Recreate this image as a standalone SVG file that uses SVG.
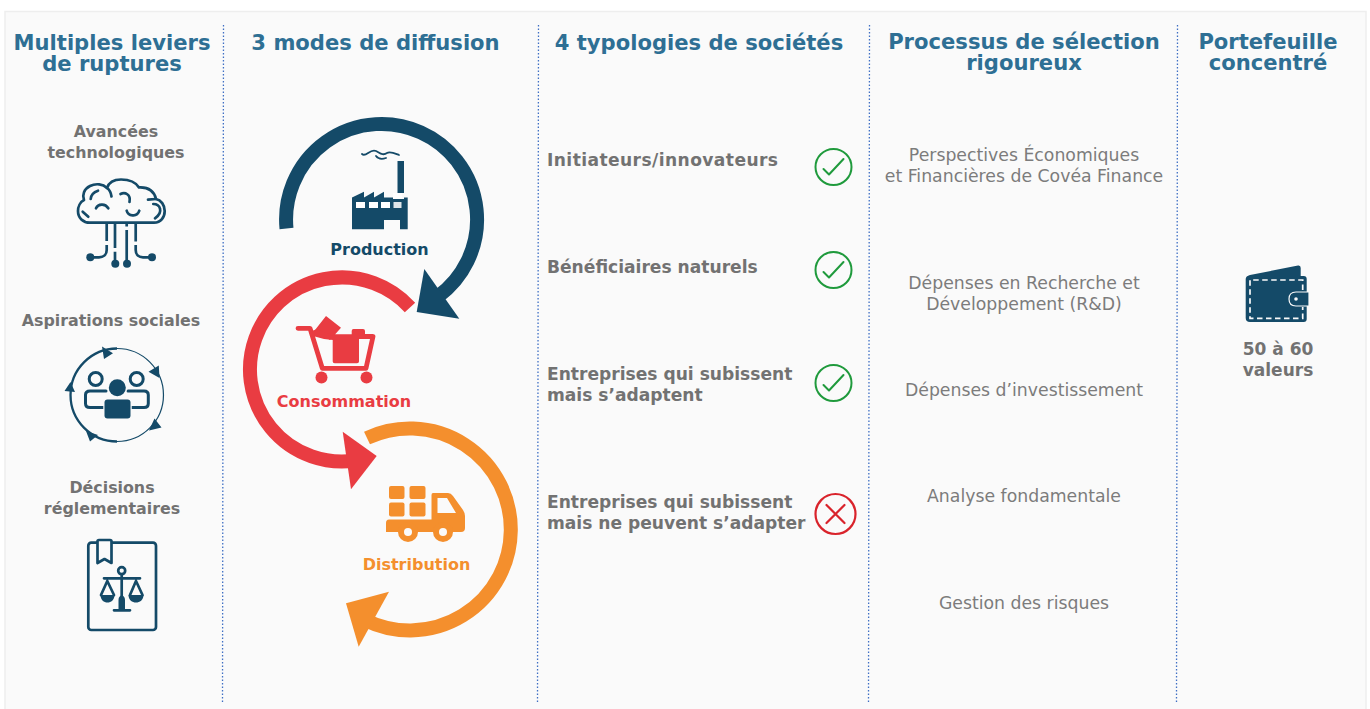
<svg xmlns="http://www.w3.org/2000/svg" width="1370" height="709" viewBox="0 0 1370 709">
<style>
text{font-family:"DejaVu Sans",Verdana,sans-serif;text-anchor:middle}
.h{font-weight:700;font-size:21.1px;fill:#2e6f94}
.b{font-weight:700;font-size:15.85px;fill:#727272}
.l{font-weight:700;font-size:16px}
.bl{font-weight:700;font-size:17.1px;fill:#727272;text-anchor:start}
.r{font-size:17.3px;fill:#7c7c7c}
.sep{fill:none;stroke:#3f6fc4;stroke-width:1.3;stroke-dasharray:1.5 2}
.ic{fill:none;stroke:#144a68;stroke-width:2.7;stroke-linecap:round;stroke-linejoin:round}
.fi{fill:#144a68}
.ok{fill:none;stroke:#1f9a3c;stroke-width:2;stroke-linecap:round;stroke-linejoin:round}
.ko{fill:none;stroke:#d9232b;stroke-width:2.2;stroke-linecap:round}
</style>
<rect width="1370" height="709" fill="#fff"/>
<rect x="5" y="11.500" width="1361" height="710" fill="#fafafa" stroke="#eeeeee" stroke-width="1.500"/>
<g id="separators">
<path class="sep" d="M223.500 25L222.500 702"/><path class="sep" d="M538.500 25L537.500 702"/><path class="sep" d="M869.500 25L868.500 702"/><path class="sep" d="M1177.500 25L1176.500 702"/>
</g>
<g id="col1-title"><text class="h" x="112" y="50">Multiples leviers</text><text class="h" x="112" y="71">de ruptures</text></g>
<g id="col2-title"><text class="h" x="375.500" y="50">3 modes de diffusion</text></g>
<g id="col3-title"><text class="h" x="699" y="50">4 typologies de sociétés</text></g>
<g id="col4-title"><text class="h" x="1024" y="49">Processus de sélection</text><text class="h" x="1024" y="70">rigoureux</text></g>
<g id="col5-title"><text class="h" x="1268" y="49">Portefeuille</text><text class="h" x="1268" y="70">concentré</text></g>

<g id="lever-tech">
<text class="b" x="116" y="137">Avancées</text><text class="b" x="116" y="158">technologiques</text>
<path class="ic" d="M90 222.700H154C161 222.700 164.700 217 164.700 211C164.700 205 161 200 156 199C154 191 148 187 139 187.500C135 181 128 179.500 121 179.500C114 179.500 109 182 107 188C103 184 96 183 90 186C84 189 82 195 84 200C80 202 78 207 78 211C78 218 83 222.700 90 222.700Z"/>
<path class="ic" d="M107 188C110 190 111 193 111.500 196.500M90.700 199C91 195 94 192 98 190.700M96 208.300C98 204 105 203 108.300 208.300M120.500 194C125 192 131 194 129.500 202M126.700 210.700C128 216 137 218 139.300 210.700M148 199.700L156 199M153.300 204C160 204 164 212 155 218.300M82.700 211.700L88.300 216.700"/>
<path class="ic" style="stroke-linecap:butt" d="M106.700 224V241M106.700 245V250C106.700 255 103 257.300 99 257.300H92M115 224V248M115 251.700V262M126.700 224V226.500M126.700 230V262M135.700 224V241.500M135.700 245V250C135.700 255 139 257.300 143 257.300H150"/>
<circle class="fi" cx="90.300" cy="257.300" r="4"/><circle class="fi" cx="115.300" cy="263.700" r="4"/><circle class="fi" cx="127" cy="263.700" r="4"/><circle class="fi" cx="152" cy="257.300" r="4"/>
</g>
<g id="lever-social">
<text class="b" x="111" y="326">Aspirations sociales</text>
<path fill="none" stroke="#144a68" stroke-width="1.200" d="M117 348.500A46.500 46.500 0 0 1 117 441.500"/>
<path fill="none" stroke="#144a68" stroke-width="2.300" d="M117 441.500A46.500 46.500 0 0 1 117 348.500"/>
<path class="fi" d="M102 346.500L113 353.300L104 359ZM158.800 365.500L148.500 371.700L159.500 378ZM154.500 418.500L161.500 427.500L149 430.500ZM86 431L98 435L90 441.500ZM70.500 382L64.500 391L75 392Z"/>
<circle cx="95.700" cy="379" r="6.500" class="ic" style="stroke-width:3"/><circle cx="136.700" cy="379" r="6.500" class="ic" style="stroke-width:3"/>
<path class="ic" style="stroke-width:3" d="M106 391H90Q85.500 391 85.500 395V403.500Q85.500 407.500 90 407.500H106M128 391H144Q148.300 391 148.300 395V403.500Q148.300 407.500 144 407.500H128"/>
<g fill="#144a68" stroke="#fafafa" stroke-width="2.500" paint-order="stroke">
<rect x="104.500" y="399.500" width="26" height="19" rx="3"/>
<circle cx="117.300" cy="387.700" r="8.500"/>
</g>
</g>
<g id="lever-reg">
<text class="b" x="112" y="493">Décisions</text><text class="b" x="112" y="514">réglementaires</text>
<rect x="88.300" y="542.700" width="67.700" height="87.300" rx="3" class="ic"/>
<path class="ic" d="M97.500 541.500Q97.500 540 99 540H110Q111.500 540 111.500 541.500V563L104.500 559L97.500 563Z" style="fill:#fafafa"/>
<circle cx="121.700" cy="570.700" r="3.500" class="ic"/>
<path class="ic" d="M104 578.300H140M121.700 575V597M114 610.300H130M107.300 581L101 595M107.300 581L114 595M136 581L130 595M136 581L142.500 595"/>
<path class="fi" d="M100.500 595H114.500C114.500 605 100.500 605 100.500 595ZM128.500 595H143.500C143.500 605 128.500 605 128.500 595ZM118.500 609V600C118.500 594 125 594 125 600V609Z"/>
</g>

<g id="connectors">
<path d="M286.500 228.500A95.500 95.500 0 1 1 438 296.500" fill="none" stroke="#144a68" stroke-width="14"/>
<path class="fi" d="M424.300 269L459.300 318.700L416.700 312Z"/>
<path d="M410 307.500A92 92 0 1 0 355 460.500" fill="none" stroke="#e93c42" stroke-width="14"/>
<path fill="#e93c42" d="M342.700 431.700L376.700 456L351 489.300Z"/>
<path d="M367 438A101 101 0 1 1 365 620" fill="none" stroke="#f48f2d" stroke-width="14"/>
<path fill="#f48f2d" d="M389 591.700L346 603.300L358.700 646.700Z"/>
</g>

<g id="production">
<path fill="none" stroke="#144a68" stroke-width="1.800" stroke-linecap="round" d="M362 154C366 158 370 148 376 151C380 153 383 156 387 153C390 151 394 153 399 155M376 156C379 160 383 159 386 158"/>
<path class="fi" d="M397.500 161H404V193H397.500ZM352 197.500L364 191.700V197.500L374 191.700V197.500L384 191.700V197.500H397V199H404V197.500H407.700V229.300H400V220H384V229.300H352Z"/>
<g fill="#fff"><rect x="356" y="202" width="9" height="6"/><rect x="369" y="202" width="9" height="6"/><rect x="381" y="202" width="9" height="6"/><rect x="393.500" y="202" width="8" height="6" fill="#dfe6ea"/><rect x="393" y="193" width="9" height="6"/></g>
<text class="l" x="379.500" y="255" fill="#144a68">Production</text>
</g>
<g id="consommation">
<path fill="none" stroke="#e93c42" stroke-width="4.800" stroke-linecap="round" stroke-linejoin="round" d="M298 328.300H310L322.300 368.300H366L373 336.500H358"/>
<path fill="#e93c42" d="M315 330L326 316L341 327.700L330 340ZM332.700 336Q332.700 334.300 334 334.300H351.700V331Q351.700 329 353.500 329H363Q365 329 365 331V337H359V361.500Q359 363.300 357 363.300H334.700Q332.700 363.300 332.700 361.500Z"/>
<path fill="#e93c42" d="M312 331L317 329L333 336V340L324 339L313 336Z"/>
<circle cx="321.500" cy="377.500" r="6" fill="#e93c42"/><circle cx="366.500" cy="377.500" r="6" fill="#e93c42"/>
<text class="l" x="344" y="407" fill="#e93c42">Consommation</text>
</g>
<g id="distribution">
<g fill="#f48f2d"><rect x="389" y="486" width="15.500" height="13" rx="2"/><rect x="409.500" y="486" width="16" height="13" rx="2"/><rect x="389" y="502.500" width="15.500" height="14" rx="2"/><rect x="409.500" y="502.500" width="16" height="14" rx="2"/>
<path d="M431.500 495Q431.500 493 433 493H448Q451 493 453 496L463 510Q465 513 465 516V528Q465 532 461 532H386V523Q386 519.500 389 519.500H431.500Z"/>
<circle cx="408" cy="532" r="10"/><circle cx="443" cy="532" r="10"/></g>
<path fill="#fafafa" d="M437.500 498H447L456 513H437.500Z"/>
<circle cx="408" cy="532" r="4" fill="#fafafa"/><circle cx="443" cy="532" r="4" fill="#fafafa"/>
<text class="l" x="416.500" y="570" fill="#f48f2d">Distribution</text>
</g>

<g id="typo-1"><text class="bl" x="547" y="166" textLength="231" lengthAdjust="spacing">Initiateurs/innovateurs</text><circle cx="833.500" cy="167" r="18" class="ok"/><path class="ok" d="M823.500 169L829 174.500L843.500 159"/></g>
<g id="typo-2"><text class="bl" x="547" y="273">Bénéficiaires naturels</text><circle cx="833.500" cy="270" r="18" class="ok"/><path class="ok" d="M823.500 272L829 277.500L843.500 262"/></g>
<g id="typo-3"><text class="bl" x="547" y="380">Entreprises qui subissent</text><text class="bl" x="547" y="401">mais s’adaptent</text><circle cx="833.500" cy="383" r="18" class="ok"/><path class="ok" d="M823.500 385L829 390.500L843.500 375"/></g>
<g id="typo-4"><text class="bl" x="547" y="508">Entreprises qui subissent</text><text class="bl" x="547" y="529">mais ne peuvent s’adapter</text><circle cx="835.500" cy="514" r="20" class="ko"/><path class="ko" d="M826.500 505L844.500 523M844.500 505L826.500 523"/></g>

<g id="step-1"><text class="r" x="1024" y="161">Perspectives Économiques</text><text class="r" x="1024" y="182">et Financières de Covéa Finance</text></g>
<g id="step-2"><text class="r" x="1024" y="289">Dépenses en Recherche et</text><text class="r" x="1024" y="310">Développement (R&amp;D)</text></g>
<g id="step-3"><text class="r" x="1024" y="396">Dépenses d’investissement</text></g>
<g id="step-4"><text class="r" x="1024" y="502">Analyse fondamentale</text></g>
<g id="step-5"><text class="r" x="1024" y="609">Gestion des risques</text></g>

<g id="portfolio">
<path class="fi" d="M1250 275L1298 265.500Q1300.700 265 1300.700 268V276H1303.700Q1306.700 276 1306.700 279V319Q1306.700 322 1303.700 322H1250Q1245.700 322 1245.700 318V279Q1245.700 276 1250 275Z"/>
<path fill="none" stroke="#fafafa" stroke-width="1.700" stroke-dasharray="5.500 3.500" d="M1302.700 290V280H1250V318.300H1302.700V307"/>
<path fill="#144a68" stroke="#fafafa" stroke-width="1.200" d="M1309 292H1296Q1289 292 1289 299Q1289 306 1296 306H1309Z"/>
<circle cx="1296" cy="299" r="1.800" fill="#fafafa"/>
<text x="1278" y="355" style="font-weight:700;font-size:17px;fill:#727272">50 à 60</text>
<text x="1278" y="376" style="font-weight:700;font-size:17px;fill:#727272">valeurs</text>
</g>
</svg>
